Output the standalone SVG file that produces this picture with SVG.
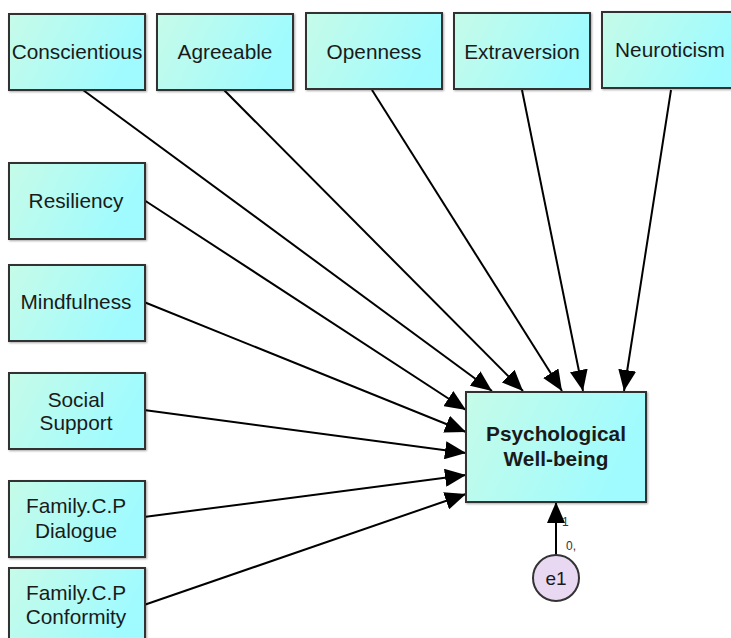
<svg xmlns="http://www.w3.org/2000/svg" width="731" height="638" viewBox="0 0 731 638">
<defs>
<linearGradient id="g" x1="0" y1="0" x2="1" y2="0.3">
<stop offset="0" stop-color="#c6fbe8"/>
<stop offset="1" stop-color="#9ffbff"/>
</linearGradient>
<marker id="ah" markerUnits="userSpaceOnUse" markerWidth="22" markerHeight="18" refX="21" refY="9" orient="auto">
<path d="M0,0 L21,9 L0,18 Z" fill="#000"/>
</marker>
<filter id="sh" x="-10%" y="-10%" width="120%" height="120%">
<feGaussianBlur in="SourceAlpha" stdDeviation="1.2"/>
<feOffset dx="0.5" dy="0.5"/>
<feComponentTransfer><feFuncA type="linear" slope="0.35"/></feComponentTransfer>
<feMerge><feMergeNode/><feMergeNode in="SourceGraphic"/></feMerge>
</filter>
</defs>
<style>
.box{fill:url(#g);stroke:#333;stroke-width:2;filter:url(#sh)}
.t{font-family:"Liberation Sans",Arial,sans-serif;font-size:20.8px;fill:#1a1a1a;text-anchor:middle}
.b{font-weight:bold}
.c{fill:none;stroke:#000;stroke-width:2;marker-end:url(#ah)}
.s{font-family:"Liberation Sans",Arial,sans-serif;font-size:12px;fill:#333}
</style>
<g id="connectors">
<line class="c" x1="83" y1="90" x2="492" y2="391"/>
<line class="c" x1="224" y1="90" x2="523" y2="391"/>
<line class="c" x1="372" y1="90" x2="562" y2="391"/>
<line class="c" x1="522" y1="90" x2="583" y2="391"/>
<line class="c" x1="671" y1="90" x2="624" y2="391"/>
<line class="c" x1="144" y1="200" x2="466" y2="410"/>
<line class="c" x1="144" y1="302" x2="466" y2="432"/>
<line class="c" x1="144" y1="410" x2="466" y2="453"/>
<line class="c" x1="144" y1="517" x2="466" y2="475"/>
<line class="c" x1="144" y1="605" x2="466" y2="494"/>
<line class="c" x1="556" y1="555" x2="556" y2="502"/>
<text class="s" x="562" y="526">1</text>
<text class="s" x="566" y="550">0,</text>
</g>
<g id="conscientious"><rect class="box" x="9" y="14" width="136" height="76"/><text class="t" x="77" y="59">Conscientious</text></g>
<g id="agreeable"><rect class="box" x="157" y="14" width="136" height="76"/><text class="t" x="225" y="59">Agreeable</text></g>
<g id="openness"><rect class="box" x="306" y="13" width="136" height="76"/><text class="t" x="374" y="59">Openness</text></g>
<g id="extraversion"><rect class="box" x="454" y="13" width="136" height="76"/><text class="t" x="522" y="59">Extraversion</text></g>
<g id="neuroticism"><rect class="box" x="602" y="12" width="136" height="76"/><text class="t" x="670" y="57">Neuroticism</text></g>
<g id="resiliency"><rect class="box" x="9" y="163" width="136" height="76"/><text class="t" x="76" y="208">Resiliency</text></g>
<g id="mindfulness"><rect class="box" x="9" y="265" width="136" height="76"/><text class="t" x="76" y="309">Mindfulness</text></g>
<g id="social-support"><rect class="box" x="9" y="373" width="136" height="76"/><text class="t" x="76" y="407">Social</text><text class="t" x="76" y="430">Support</text></g>
<g id="family-dialogue"><rect class="box" x="9" y="481" width="136" height="76"/><text class="t" x="76" y="513">Family.C.P</text><text class="t" x="76" y="538">Dialogue</text></g>
<g id="family-conformity"><rect class="box" x="9" y="568" width="136" height="76"/><text class="t" x="76" y="600">Family.C.P</text><text class="t" x="76" y="624">Conformity</text></g>
<g id="pwb"><rect class="box" x="466" y="392" width="180" height="110"/><text class="t b" x="556" y="441">Psychological</text><text class="t b" x="556" y="466">Well-being</text></g>
<g id="e1"><circle cx="556" cy="578" r="23" fill="#e8d8f2" stroke="#333" stroke-width="2"/><text class="t" x="556" y="585" style="font-size:19px">e1</text></g>
</svg>
